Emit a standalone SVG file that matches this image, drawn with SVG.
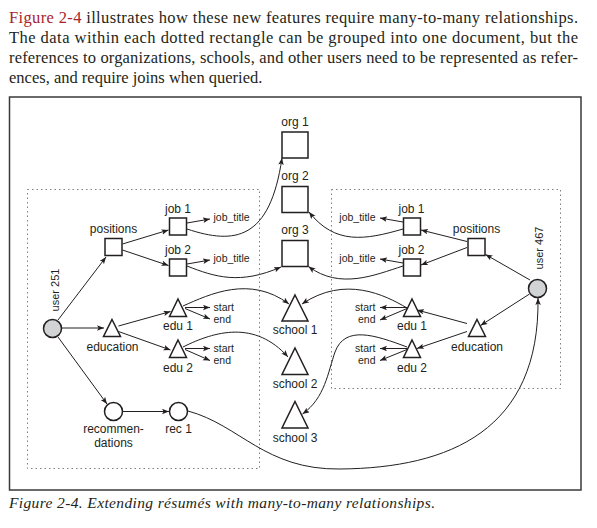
<svg xmlns="http://www.w3.org/2000/svg" width="597" height="528" viewBox="0 0 597 528">
<defs>
<marker id="ah" markerUnits="userSpaceOnUse" markerWidth="8" markerHeight="6" refX="7" refY="2.75" orient="auto">
<path d="M0,0 L7,2.75 L0,5.5 L1.6,2.75 z" fill="#231f20"/>
</marker>
<style>
.para{font-family:"Liberation Serif",serif;font-size:16.5px;fill:#231f20}
.red{fill:#a8242b}
.cap{font-family:"Liberation Serif",serif;font-style:italic;font-size:15.5px;fill:#231f20}
.lbl{font-family:"Liberation Sans",Arial,sans-serif;font-size:12px;fill:#231f20;text-anchor:middle}
.sm{font-family:"Liberation Sans",Arial,sans-serif;font-size:10.5px;fill:#231f20}
.end{text-anchor:end}
.shape{fill:#fff;stroke:#231f20;stroke-width:1.5}
.user{fill:#d1d3d4;stroke:#231f20;stroke-width:1.5}
.doc{fill:none;stroke:#808080;stroke-width:1;stroke-dasharray:1.5 3}
#connectors path{fill:none;stroke:#231f20;stroke-width:1;marker-end:url(#ah)}
</style>
</defs>
<rect width="597" height="528" fill="#fff"/>

<text class="para" x="9" y="23" textLength="569" lengthAdjust="spacing"><tspan class="red">Figure 2-4</tspan> illustrates how these new features require many-to-many relationships.</text>
<text class="para" x="9" y="43" textLength="569" lengthAdjust="spacing">The data within each dotted rectangle can be grouped into one document, but the</text>
<text class="para" x="9" y="63" textLength="569" lengthAdjust="spacing">references to organizations, schools, and other users need to be represented as refer-</text>
<text class="para" x="9" y="83">ences, and require joins when queried.</text>

<rect x="9.5" y="97" width="571.5" height="393" fill="none" stroke="#3a3a3a" stroke-width="1.5"/>
<rect class="doc" x="27.5" y="189.5" width="232" height="279"/>
<rect class="doc" x="331.5" y="189.5" width="229" height="199"/>

<g id="connectors">
<!-- user 251 -->
<path d="M58,320 L106,257"/>
<path d="M61.5,328 L104,328"/>
<path d="M58,337 L107,404"/>
<path d="M122.5,244 L168.5,230"/>
<path d="M122.5,250 L168.5,265.5"/>
<path d="M187,223 L210,219"/>
<path d="M187,264 L210,260"/>
<path d="M187,229 C235,245 270,240 282,158"/>
<path d="M187,266 C215,277 240,285 281,267"/>
<path d="M118.5,326 L170.5,311.5"/>
<path d="M118.5,331.5 L170.5,350"/>
<path d="M185,307.5 L210,307.5"/>
<path d="M185,308.5 L210,319"/>
<path d="M185,348.5 L210,348.5"/>
<path d="M185,349.5 L210,360.5"/>
<path d="M183,306 C210,294 250,275 289,304"/>
<path d="M183,347 C215,331 255,320 288,357"/>
<path d="M122.5,411.5 L169,411.5"/>
<path d="M188,411 C240,425 265,470 340,469 C450,468 540,430 538,298"/>
<!-- user 467 -->
<path d="M530,280 L485.5,254.5"/>
<path d="M529.5,294 L480.5,325.5"/>
<path d="M467,241.5 L421,230"/>
<path d="M467,247.5 L421,265"/>
<path d="M403,222 L380,218"/>
<path d="M403,263 L380,259"/>
<path d="M403,229 C365,240 335,245 309,212"/>
<path d="M403,266 C375,275 340,290 308.5,266.5"/>
<path d="M467,323.5 L417,310"/>
<path d="M467,331.5 L417,348.5"/>
<path d="M407,307.5 L380,307.5"/>
<path d="M407,308.5 L380,320"/>
<path d="M407,348.5 L380,348.5"/>
<path d="M407,349.5 L380,360.5"/>
<path d="M407,308 C385,295 345,275 302,304"/>
<path d="M407,347 C375,335 345,325 335,352 C328,372 325,398 302.5,414"/>
</g>

<g id="org1"><text class="lbl" x="295" y="126">org 1</text><rect class="shape" x="282" y="132" width="26" height="26"/></g>
<g id="org2"><text class="lbl" x="295" y="180">org 2</text><rect class="shape" x="282" y="186.5" width="26" height="26"/></g>
<g id="org3"><text class="lbl" x="295" y="234">org 3</text><rect class="shape" x="282" y="240.5" width="26" height="26"/></g>

<g id="school1"><polygon class="shape" points="295,295 308,321 282,321"/><text class="lbl" x="295" y="334">school 1</text></g>
<g id="school2"><polygon class="shape" points="295,348 308,374.5 282,374.5"/><text class="lbl" x="295" y="388">school 2</text></g>
<g id="school3"><polygon class="shape" points="295,401.5 308,428 282,428"/><text class="lbl" x="295" y="441.5">school 3</text></g>

<g id="user251"><circle class="user" cx="52.5" cy="328.5" r="9"/><text class="sm" style="font-size:11px" text-anchor="middle" transform="translate(58.5,290) rotate(-90)">user 251</text></g>
<g id="positions-l"><text class="lbl" x="113.5" y="233">positions</text><rect class="shape" x="105" y="238.5" width="17" height="17"/></g>
<g id="job1-l"><text class="lbl" x="178" y="213">job 1</text><rect class="shape" x="169.5" y="218" width="17" height="17"/><text class="sm" x="213.5" y="221">job_title</text></g>
<g id="job2-l"><text class="lbl" x="178" y="254">job 2</text><rect class="shape" x="169.5" y="259" width="17" height="17"/><text class="sm" x="213.5" y="262">job_title</text></g>
<g id="education-l"><polygon class="shape" points="112,319.5 120.5,336.5 103.5,336.5"/><text class="lbl" x="112.5" y="351">education</text></g>
<g id="edu1-l"><polygon class="shape" points="178,299 186.5,316.5 169.5,316.5"/><text class="lbl" x="178" y="330">edu 1</text><text class="sm" x="213.5" y="310.5">start</text><text class="sm" x="213.5" y="323">end</text></g>
<g id="edu2-l"><polygon class="shape" points="178,340 186.5,357.5 169.5,357.5"/><text class="lbl" x="178" y="371.5">edu 2</text><text class="sm" x="213.5" y="351.5">start</text><text class="sm" x="213.5" y="364">end</text></g>
<g id="recommendations"><circle class="shape" cx="113.5" cy="411.5" r="9"/><text class="lbl" x="113.5" y="432.5">recommen-</text><text class="lbl" x="113.5" y="446.5">dations</text></g>
<g id="rec1"><circle class="shape" cx="178.5" cy="411.5" r="9"/><text class="lbl" x="178.5" y="432.5">rec 1</text></g>

<g id="user467"><circle class="user" cx="537.5" cy="288.5" r="9"/><text class="sm" style="font-size:11px" text-anchor="middle" transform="translate(543,248) rotate(-90)">user 467</text></g>
<g id="positions-r"><text class="lbl" x="476.5" y="233">positions</text><rect class="shape" x="468" y="238.5" width="17" height="17"/></g>
<g id="job1-r"><text class="lbl" x="411.5" y="213">job 1</text><rect class="shape" x="403.5" y="218" width="17" height="17"/><text class="sm end" x="375.5" y="221">job_title</text></g>
<g id="job2-r"><text class="lbl" x="411.5" y="254">job 2</text><rect class="shape" x="403.5" y="259" width="17" height="17"/><text class="sm end" x="375.5" y="262">job_title</text></g>
<g id="education-r"><polygon class="shape" points="477,319.5 485.5,336.5 468.5,336.5"/><text class="lbl" x="477" y="351">education</text></g>
<g id="edu1-r"><polygon class="shape" points="412,299 420.5,316.5 403.5,316.5"/><text class="lbl" x="412" y="330">edu 1</text><text class="sm end" x="375.5" y="310.5">start</text><text class="sm end" x="375.5" y="323">end</text></g>
<g id="edu2-r"><polygon class="shape" points="412,340 420.5,357.5 403.5,357.5"/><text class="lbl" x="412" y="371.5">edu 2</text><text class="sm end" x="375.5" y="351.5">start</text><text class="sm end" x="375.5" y="364">end</text></g>

<text class="cap" x="9" y="508" textLength="426" lengthAdjust="spacing">Figure 2-4. Extending résumés with many-to-many relationships.</text>
</svg>
